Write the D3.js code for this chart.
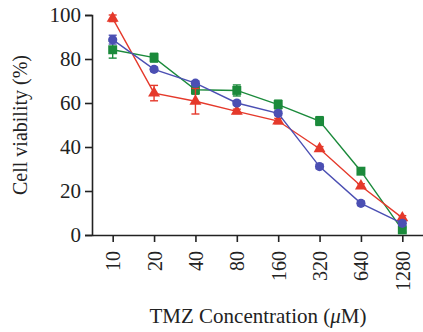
<!DOCTYPE html>
<html lang="en">
<head>
<meta charset="UTF-8">
<script src="https://d3js.org/d3.v7.min.js"></script>
<style>
  body { margin: 0; background: #fff; }
  svg text { font-family: 'Liberation Serif', 'DejaVu Serif', serif; fill: #222; }
</style>
</head>
<body>
<div id="chart"></div>
<script>
// concentrations (uM) and viability per series
const concentrations = ["10", "20", "40", "80", "160", "320", "640", "1280"];
const yTicks = [0, 20, 40, 60, 80, 100];
const redValues   = [98.5, 64.5, 60.8, 56.2, 51.8, 39.2, 22.3, 7.8];
const redErrors   = [1.5, 3.5, 5.8, 1, 1.2, 1, 1, 1];
const blueValues  = [88.8, 75.3, 69.0, 60.0, 55.3, 31.1, 14.4, 5.3];
const blueErrors  = [2, 1, 1, 1, 1, 1, 1, 1];
const greenValues = [84.2, 80.6, 66.0, 65.7, 59.3, 51.8, 29.0, 2.3];
const greenErrors = [3.8, 2, 2, 2.5, 2, 2, 1, 1];

const W = 423, H = 332;
const margin = { left: 92, top: 15, right: 0, bottom: 97 };

const svg = d3.select("#chart").append("svg")
  .attr("width", W).attr("height", H);

const x = d3.scalePoint().domain(concentrations)
  .range([margin.left, W - margin.right]).padding(0.5);
const y = d3.scaleLinear().domain([0, 100]).range([H - margin.bottom, margin.top]);

// axes
const yAxis = svg.append("g")
  .attr("transform", `translate(${margin.left},0)`)
  .call(d3.axisLeft(y).tickValues(yTicks).tickSize(7).tickPadding(4));
yAxis.selectAll("text").attr("font-size", 21);

const xAxis = svg.append("g")
  .attr("transform", `translate(0,${H - margin.bottom})`)
  .call(d3.axisBottom(x).tickSize(7).tickSizeOuter(0));
xAxis.selectAll("text")
  .attr("font-size", 20)
  .attr("transform", "rotate(-90)")
  .attr("text-anchor", "end")
  .attr("dx", "-0.8em")
  .attr("dy", "0.35em")
  .attr("x", 0).attr("y", 0);
svg.selectAll(".domain, .tick line").attr("stroke", "#222").attr("stroke-width", 1.6);

// axis titles
svg.append("text")
  .attr("transform", `translate(27,${(y(0) + y(100)) / 2}) rotate(-90)`)
  .attr("text-anchor", "middle")
  .attr("font-size", 20)
  .text("Cell viability (%)");

const xt = svg.append("text")
  .attr("x", 258).attr("y", 323)
  .attr("text-anchor", "middle")
  .attr("font-size", 21);
xt.append("tspan").text("TMZ Concentration (");
xt.append("tspan").attr("font-style", "italic").text("μ");
xt.append("tspan").text("M)");

const series = [
  { values: greenValues, errors: greenErrors, color: "#1b8a3b", shape: d3.symbolSquare, size: 80 },
  { values: redValues, errors: redErrors, color: "#e5392b", shape: d3.symbolTriangle, size: 62 },
  { values: blueValues, errors: blueErrors, color: "#4b4fb3", shape: d3.symbolCircle, size: 66 }
];

const line = d3.line().x((d, i) => x(concentrations[i])).y(d => y(d));

series.forEach(s => {
  const g = svg.append("g");
  g.append("path").datum(s.values)
    .attr("d", line)
    .attr("fill", "none")
    .attr("stroke", s.color)
    .attr("stroke-width", 1.4);

  // error bars
  s.values.forEach((v, i) => {
    const cx = x(concentrations[i]);
    const e = s.errors[i];
    g.append("line")
      .attr("x1", cx).attr("x2", cx)
      .attr("y1", y(v - e)).attr("y2", y(v + e))
      .attr("stroke", s.color).attr("stroke-width", 1.4);
    [v - e, v + e].forEach(ev => {
      g.append("line")
        .attr("x1", cx - 4).attr("x2", cx + 4)
        .attr("y1", y(ev)).attr("y2", y(ev))
        .attr("stroke", s.color).attr("stroke-width", 1.4);
    });
  });

  g.selectAll("path.mark").data(s.values).join("path")
    .attr("class", "mark")
    .attr("transform", (d, i) => `translate(${x(concentrations[i])},${y(d)})`)
    .attr("d", d3.symbol().type(s.shape).size(s.size))
    .attr("fill", s.color);
});
</script>
</body>
</html>
